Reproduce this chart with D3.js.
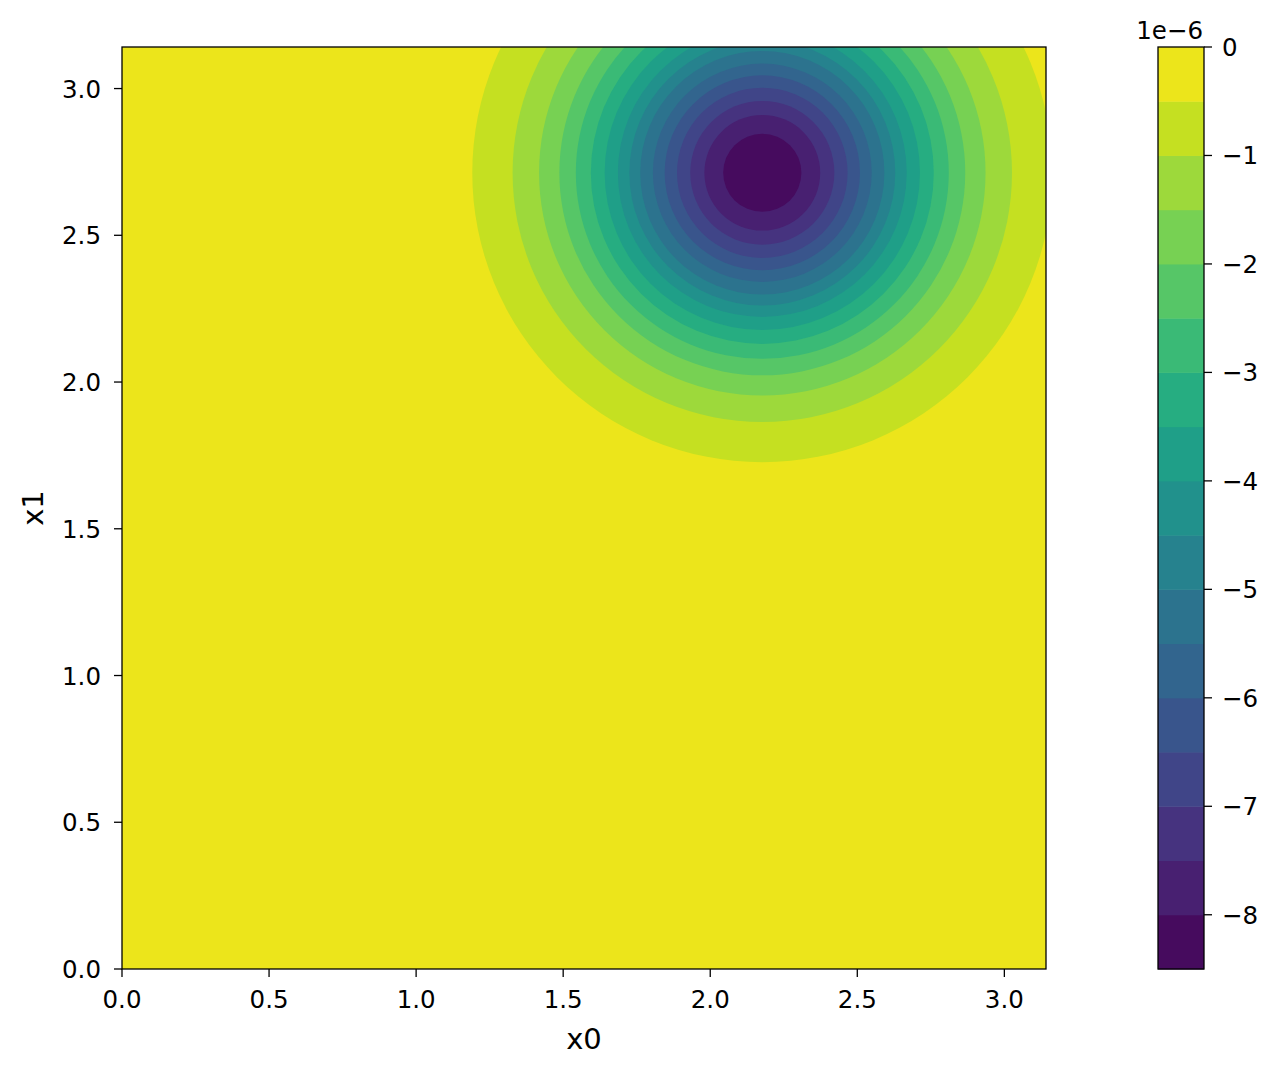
<!DOCTYPE html>
<html>
<head>
<meta charset="utf-8">
<script src="https://cdn.jsdelivr.net/npm/d3@7"></script>
<style>
  html, body { margin: 0; padding: 0; background: #fff; }
  svg { display: block; }
  text { font-family: "DejaVu Sans", sans-serif; fill: #000; }
</style>
</head>
<body>
<svg id="chart" width="1281" height="1076"></svg>
<script>
// ---- data (values in units of 1e-6) ----
const xDomain = [0, Math.PI];
const yDomain = [0, Math.PI];
const xTicks = [0.0, 0.5, 1.0, 1.5, 2.0, 2.5, 3.0];
const yTicks = [0.0, 0.5, 1.0, 1.5, 2.0, 2.5, 3.0];
const levels = [-8.5, -8, -7.5, -7, -6.5, -6, -5.5, -5, -4.5, -4, -3.5, -3, -2.5, -2, -1.5, -1, -0.5, 0];
const cbTicks = [0, -1, -2, -3, -4, -5, -6, -7, -8];
const centerX0 = 2.177;
const centerX1 = 2.713;
// contour boundary level -> radius (data units)
const ringLevels = [-0.5, -1, -1.5, -2, -2.5, -3, -3.5, -4, -4.5, -5, -5.5, -6, -6.5, -7, -7.5, -8];
const ringRadii  = [0.986, 0.849, 0.759, 0.690, 0.634, 0.583, 0.536, 0.491, 0.452, 0.415, 0.372, 0.332, 0.290, 0.245, 0.197, 0.133];
const offsetLabel = "1e\u22126";

// ---- layout ----
const svg = d3.select("#chart");
const L = 122, R = 1046, T = 47, B = 969;
const x = d3.scaleLinear().domain(xDomain).range([L, R]);
const y = d3.scaleLinear().domain(yDomain).range([B, T]);
const vmin = d3.min(levels), vmax = d3.max(levels);
const colorOf = v => d3.interpolateViridis((v - vmin) / (vmax - vmin));
const tickFont = 24.5;
const labelFont = 29;

svg.append("defs").append("clipPath").attr("id", "plotclip")
  .append("rect").attr("x", L).attr("y", T).attr("width", R - L).attr("height", B - T);

const g = svg.append("g").attr("clip-path", "url(#plotclip)");
// outermost band (0 .. -0.5)
g.append("rect").attr("x", L).attr("y", T).attr("width", R - L).attr("height", B - T)
  .attr("fill", colorOf((levels[levels.length - 1] + levels[levels.length - 2]) / 2));
ringLevels.forEach((lv, i) => {
  const r = ringRadii[i];
  g.append("ellipse")
    .attr("cx", x(centerX0)).attr("cy", y(centerX1))
    .attr("rx", x(r) - x(0)).attr("ry", y(0) - y(r))
    .attr("fill", colorOf(lv - 0.25));
});

// frame
svg.append("rect").attr("x", L).attr("y", T).attr("width", R - L).attr("height", B - T)
  .attr("fill", "none").attr("stroke", "#000").attr("stroke-width", 1.3);

// x axis
const fmt = d3.format(".1f");
const xa = svg.append("g");
xTicks.forEach(t => {
  xa.append("line").attr("x1", x(t)).attr("x2", x(t)).attr("y1", B).attr("y2", B + 8)
    .attr("stroke", "#000").attr("stroke-width", 1.3);
  xa.append("text").attr("x", x(t)).attr("y", B + 39).attr("text-anchor", "middle")
    .attr("font-size", tickFont).text(fmt(t));
});
// y axis
const ya = svg.append("g");
yTicks.forEach(t => {
  ya.append("line").attr("x1", L - 8).attr("x2", L).attr("y1", y(t)).attr("y2", y(t))
    .attr("stroke", "#000").attr("stroke-width", 1.3);
  ya.append("text").attr("x", L - 21).attr("y", y(t) + 9).attr("text-anchor", "end")
    .attr("font-size", tickFont).text(fmt(t));
});
// axis labels
svg.append("text").attr("x", (L + R) / 2).attr("y", 1049).attr("text-anchor", "middle")
  .attr("font-size", labelFont).text("x0");
svg.append("text").attr("transform", `translate(43,${(T + B) / 2}) rotate(-90)`)
  .attr("text-anchor", "middle").attr("font-size", labelFont).text("x1");

// colorbar
const cbL = 1158, cbR = 1204;
const cy = d3.scaleLinear().domain([vmin, vmax]).range([B, T]);
const cb = svg.append("g");
for (let i = 0; i < levels.length - 1; i++) {
  const lo = levels[i], hi = levels[i + 1];
  cb.append("rect").attr("x", cbL).attr("width", cbR - cbL)
    .attr("y", cy(hi)).attr("height", cy(lo) - cy(hi) + 0.5)
    .attr("fill", colorOf((lo + hi) / 2));
}
cb.append("rect").attr("x", cbL).attr("y", T).attr("width", cbR - cbL).attr("height", B - T)
  .attr("fill", "none").attr("stroke", "#000").attr("stroke-width", 1.3);
cbTicks.forEach(t => {
  cb.append("line").attr("x1", cbR).attr("x2", cbR + 8).attr("y1", cy(t)).attr("y2", cy(t))
    .attr("stroke", "#000").attr("stroke-width", 1.3);
  cb.append("text").attr("x", cbR + 18).attr("y", cy(t) + 9)
    .attr("font-size", tickFont).text(t === 0 ? "0" : "\u2212" + Math.abs(t));
});
svg.append("text").attr("x", cbR - 1).attr("y", 39).attr("text-anchor", "end")
  .attr("font-size", tickFont).text(offsetLabel);
</script>
</body>
</html>
